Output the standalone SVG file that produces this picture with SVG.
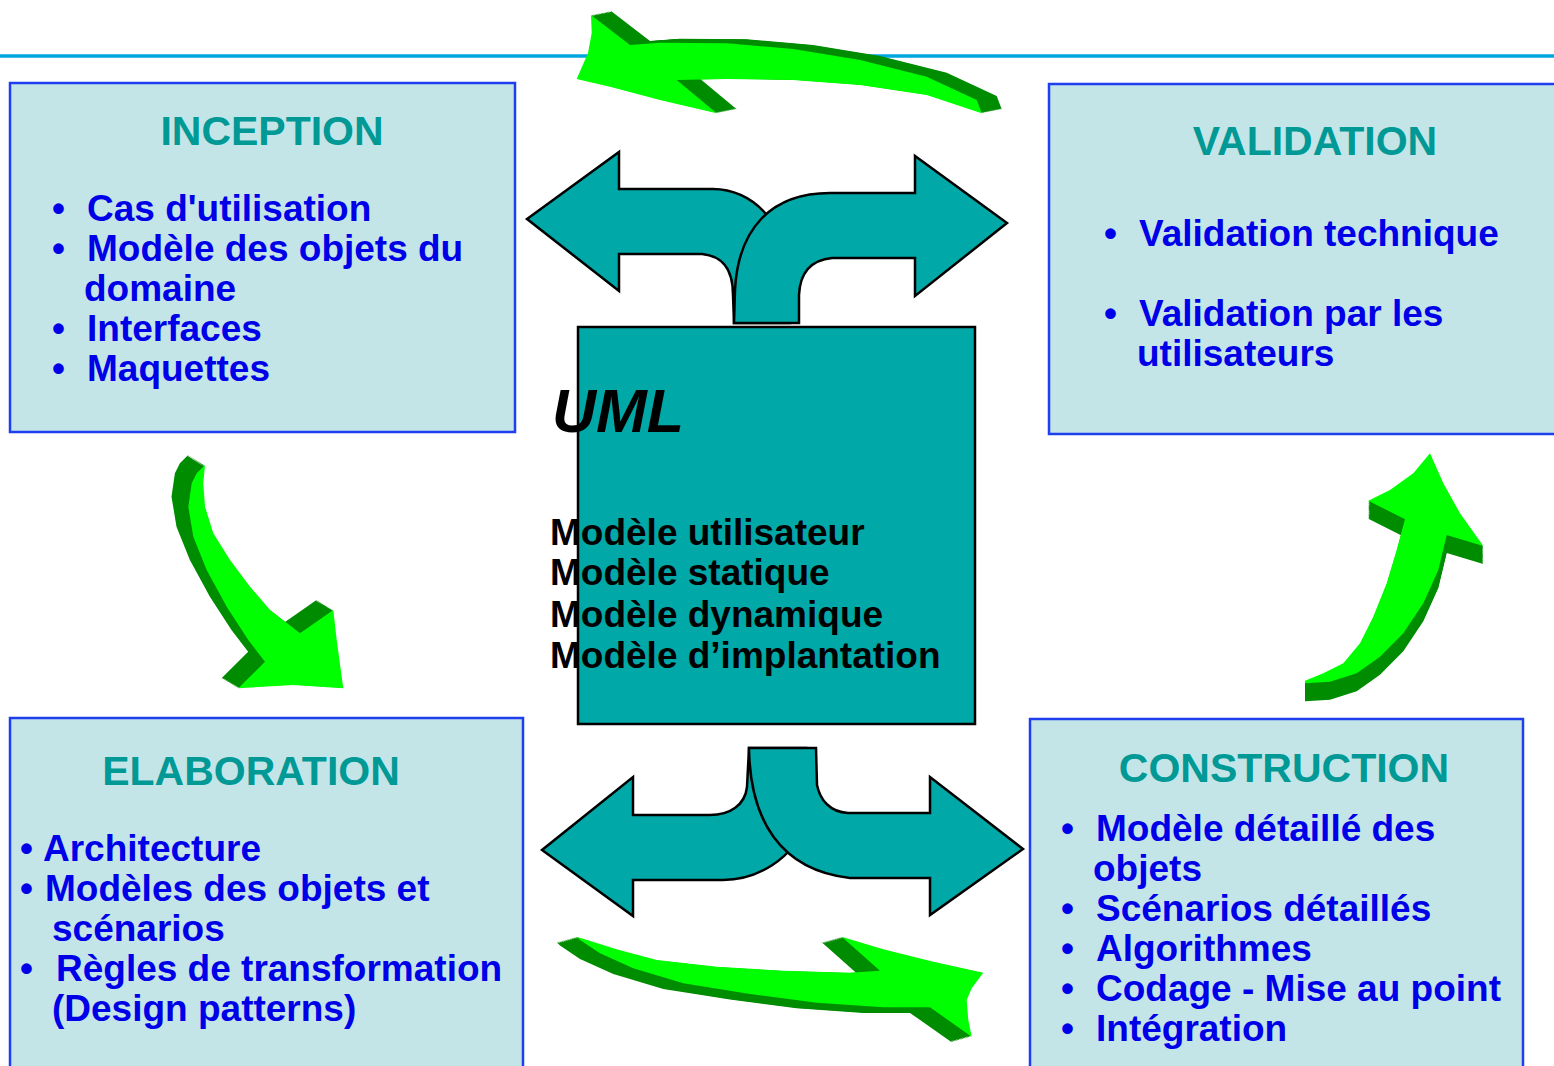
<svg xmlns="http://www.w3.org/2000/svg" width="1554" height="1066" viewBox="0 0 1554 1066">
<style>
.box{fill:#c4e5e8;stroke:#1e3ef0;stroke-width:2.5}
.ttl{font-family:"Liberation Sans",Arial,sans-serif;font-weight:bold;font-size:41px;fill:#009996;text-anchor:middle}
.itm{font-family:"Liberation Sans",Arial,sans-serif;font-weight:bold;font-size:37px;fill:#0000e8}
.uml{font-family:"Liberation Sans",Arial,sans-serif;font-weight:bold;font-size:37px;fill:#000}
.teal{fill:#00a8a8;stroke:#000;stroke-width:2.5;stroke-linejoin:miter}
.dk{fill:#008c00}
.lt{fill:#00ff00}
</style>
<defs>
<path id="gTop" d="M591,15 L630,45 L660,42.7 L726.7,43.3 L793,49 L860,60 L926.7,76.7 L976.7,100 L981.7,113.3 L926.7,95 L860,85 L793,80 L726.7,79 L676.7,80 L716.7,113.3 L660,100 L610,86.7 L576.7,79 L588,53 L591.7,33 Z"/>
<path id="gLeft" d="M205,465 L203.3,483.3 L205,506.7 L213.3,533.3 L230,560 L250,586.7 L270,610 L300,633.3 L333.3,610 L336.7,640 L343.3,688.3 L293.3,685 L238.3,688.3 L265,661.7 L248.3,640 L226.7,606.7 L206.7,570 L193.3,536.7 L188.3,506.7 L191.7,483.3 L196.7,473.3 Z"/>
<path id="gRight" d="M1430,453.3 L1443.3,483.3 L1460,513.3 L1483.3,546 L1446.7,535 L1438.3,570 L1423.3,603.3 L1403.3,633.3 L1380,656.7 L1356.7,673.3 L1330,681.7 L1305,683.3 L1305,680.7 L1323.3,673.3 L1343.3,663.3 L1360,643.3 L1373.3,616.7 L1386.7,583.3 L1396.7,550 L1405,519.3 L1368.3,500.7 L1390,490 L1413.3,473.3 Z"/>
<path id="gBot" d="M576.7,936.7 L616.7,949.3 L656.7,960 L716.7,966.7 L783.3,970.7 L850,972.7 L880,970.7 L841.7,936.7 L883.3,949.3 L933.3,961.7 L983.3,972.7 L971.7,988.3 L966.7,1000 L968.3,1020 L971.7,1036.7 L930,1007.3 L883.3,1007.3 L816.7,1002.7 L750,994 L683.3,983.3 L633.3,968.3 L600,953.3 L580,940 Z"/>
<g id="xTop" class="dk"><use href="#gTop" transform="translate(1.25,-0.25)"/><use href="#gTop" transform="translate(2.5,-0.5)"/><use href="#gTop" transform="translate(3.75,-0.75)"/><use href="#gTop" transform="translate(5,-1)"/></g>
<g id="xLeft" class="dk"><use href="#gLeft" transform="translate(-1.05,-0.625)"/><use href="#gLeft" transform="translate(-2.1,-1.25)"/><use href="#gLeft" transform="translate(-3.15,-1.875)"/><use href="#gLeft" transform="translate(-4.2,-2.5)"/></g>
<g id="xRight" class="dk"><use href="#gRight" transform="translate(0,1.125)"/><use href="#gRight" transform="translate(0,2.25)"/><use href="#gRight" transform="translate(0,3.375)"/><use href="#gRight" transform="translate(0,4.5)"/></g>
<g id="xBot" class="dk"><use href="#gBot" transform="translate(-1.25,0.35)"/><use href="#gBot" transform="translate(-2.5,0.7)"/><use href="#gBot" transform="translate(-3.75,1.05)"/><use href="#gBot" transform="translate(-5,1.4)"/></g>
</defs>
<rect width="1554" height="1066" fill="#fff"/>
<line x1="0" y1="56" x2="1554" y2="56" stroke="#00a6de" stroke-width="3.5"/>

<g id="inception">
<rect class="box" x="10" y="83" width="505" height="349"/>
<text class="ttl" x="272" y="145">INCEPTION</text>
<text class="itm"><tspan x="52" y="221">•</tspan><tspan x="87" y="221">Cas d'utilisation</tspan></text>
<text class="itm"><tspan x="52" y="261">•</tspan><tspan x="87" y="261">Modèle des objets du</tspan></text>
<text class="itm" x="84" y="301">domaine</text>
<text class="itm"><tspan x="52" y="341">•</tspan><tspan x="87" y="341">Interfaces</tspan></text>
<text class="itm"><tspan x="52" y="381">•</tspan><tspan x="87" y="381">Maquettes</tspan></text>
</g>

<g id="validation">
<rect class="box" x="1049" y="84" width="520" height="350"/>
<text class="ttl" x="1315" y="155">VALIDATION</text>
<text class="itm"><tspan x="1104" y="246">•</tspan><tspan x="1139" y="246">Validation technique</tspan></text>
<text class="itm"><tspan x="1104" y="326">•</tspan><tspan x="1139" y="326">Validation par les</tspan></text>
<text class="itm" x="1137" y="366">utilisateurs</text>
</g>

<g id="elaboration">
<rect class="box" x="10" y="718" width="513" height="360"/>
<text class="ttl" x="251" y="785">ELABORATION</text>
<text class="itm"><tspan x="20" y="861">•</tspan><tspan x="43" y="861">Architecture</tspan></text>
<text class="itm"><tspan x="20" y="901">•</tspan><tspan x="45" y="901">Modèles des objets et</tspan></text>
<text class="itm" x="52" y="941">scénarios</text>
<text class="itm"><tspan x="20" y="981">•</tspan><tspan x="56" y="981">Règles de transformation</tspan></text>
<text class="itm" x="52" y="1021">(Design patterns)</text>
</g>

<g id="construction">
<rect class="box" x="1030" y="719" width="493" height="360"/>
<text class="ttl" x="1284" y="782">CONSTRUCTION</text>
<text class="itm"><tspan x="1061" y="841">•</tspan><tspan x="1096" y="841">Modèle détaillé des</tspan></text>
<text class="itm" x="1093" y="881">objets</text>
<text class="itm"><tspan x="1061" y="921">•</tspan><tspan x="1096" y="921">Scénarios détaillés</tspan></text>
<text class="itm"><tspan x="1061" y="961">•</tspan><tspan x="1096" y="961">Algorithmes</tspan></text>
<text class="itm"><tspan x="1061" y="1001">•</tspan><tspan x="1096" y="1001">Codage - Mise au point</tspan></text>
<text class="itm"><tspan x="1061" y="1041">•</tspan><tspan x="1096" y="1041">Intégration</tspan></text>
</g>

<g id="uml">
<rect x="578" y="327" width="397" height="397" fill="#00a8a8" stroke="#000" stroke-width="2.5"/>
<text x="552" y="432" font-family="Liberation Sans, Arial, sans-serif" font-weight="bold" font-style="italic" font-size="61" fill="#000">UML</text>
<text class="uml" x="550" y="545">Modèle utilisateur</text>
<text class="uml" x="550" y="585">Modèle statique</text>
<text class="uml" x="550" y="627">Modèle dynamique</text>
<text class="uml" x="550" y="668">Modèle d’implantation</text>
</g>

<g id="connectors">
<g id="teal-top">
<path class="teal" d="M734,323 L733,295 C733,268 722,256 702,254 L619,254 L619,291 L527,219 L619,152 L619,189 L713,189 C750,189 790,220 790,290 L790,323 Z"/>
<path class="teal" d="M734,323 L735,290 C738,230 770,193 830,193 L915,193 L915,156 L1007,223 L915,296 L915,258 L832,258 C812,260 800,272 799,295 L799,323 Z"/>
</g>
<g id="teal-bottom">
<path class="teal" d="M749,748 L747,787 C745,805 730,815 710,815 L633,815 L633,777 L542,850 L633,916 L633,880 L723,880 C755,880 795,860 806,820 L806,748 Z"/>
<path class="teal" d="M749,748 L816,748 L817,785 C820,800 830,812 848,813 L930,813 L930,777 L1023,849 L930,915 L930,878 L850,878 C780,870 750,820 749,748 Z"/>
</g>
<g id="green-top">
<use href="#xTop"/>
<use href="#xTop" transform="translate(5,-1)"/>
<use href="#xTop" transform="translate(10,-2)"/>
<use href="#xTop" transform="translate(15,-3)"/>
<use href="#gTop" class="lt"/>
</g>
<g id="green-left">
<use href="#xLeft"/>
<use href="#xLeft" transform="translate(-4.2,-2.5)"/>
<use href="#xLeft" transform="translate(-8.4,-5)"/>
<use href="#xLeft" transform="translate(-12.6,-7.5)"/>
<use href="#gLeft" class="lt"/>
</g>
<g id="green-right">
<use href="#xRight"/>
<use href="#xRight" transform="translate(0,4.5)"/>
<use href="#xRight" transform="translate(0,9)"/>
<use href="#xRight" transform="translate(0,13.5)"/>
<use href="#gRight" class="lt"/>
</g>
<g id="green-bottom">
<use href="#xBot"/>
<use href="#xBot" transform="translate(-5,1.4)"/>
<use href="#xBot" transform="translate(-10,2.8)"/>
<use href="#xBot" transform="translate(-15,4.2)"/>
<use href="#gBot" class="lt"/>
</g>
</g>
</svg>
